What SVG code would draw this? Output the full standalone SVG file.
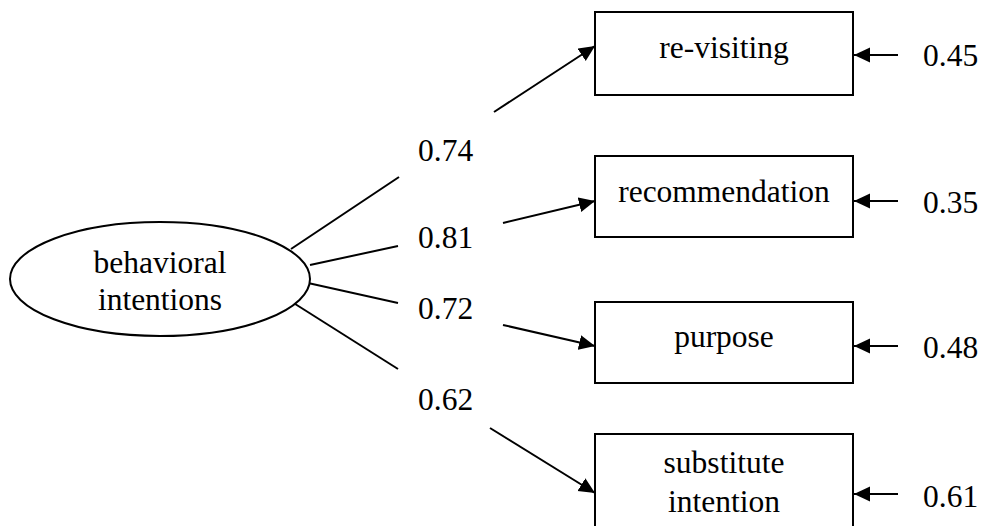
<svg xmlns="http://www.w3.org/2000/svg" width="982" height="526" viewBox="0 0 982 526">
  <style>
    text { font-family: "Liberation Serif", "Times New Roman", serif; font-size: 31.5px; fill: #000; }
    .mid { text-anchor: middle; }
    .shape { fill: #fff; stroke: #000; stroke-width: 2; }
    .edge { stroke: #000; stroke-width: 2; fill: none; }
    .arrow { marker-end: url(#head); }
  </style>
  <defs>
    <marker id="head" viewBox="0 0 16 16" refX="16" refY="8" markerWidth="16" markerHeight="16" markerUnits="userSpaceOnUse" orient="auto">
      <path d="M0,0.5 L16,8 L0,15.5 Z" fill="#000"/>
    </marker>
  </defs>

  <rect width="982" height="526" fill="#fff"/>

  <g id="connectors">
    <!-- loadings: latent factor to indicators, broken around the coefficient labels -->
    <line class="edge" x1="291" y1="249" x2="399" y2="177"/>
    <line class="edge arrow" x1="494" y1="112" x2="595" y2="46"/>
    <line class="edge" x1="310" y1="265" x2="398" y2="246"/>
    <line class="edge arrow" x1="503" y1="223" x2="595" y2="201"/>
    <line class="edge" x1="308" y1="283" x2="398" y2="303"/>
    <line class="edge arrow" x1="503" y1="325" x2="595" y2="346"/>
    <line class="edge" x1="292" y1="302" x2="398" y2="369"/>
    <line class="edge arrow" x1="490" y1="428" x2="595" y2="493"/>
    <!-- error terms -->
    <line class="edge arrow" x1="898" y1="55" x2="854" y2="55"/>
    <line class="edge arrow" x1="898" y1="201" x2="854" y2="201"/>
    <line class="edge arrow" x1="898" y1="346" x2="854" y2="346"/>
    <line class="edge arrow" x1="898" y1="494" x2="854" y2="494"/>
  </g>

  <g id="coefficients">
    <text x="418" y="161">0.74</text>
    <text x="418" y="248">0.81</text>
    <text x="418" y="319">0.72</text>
    <text x="418" y="410">0.62</text>
  </g>

  <g id="behavioral-intentions">
    <ellipse class="shape" cx="160" cy="279" rx="150" ry="57"/>
    <text class="mid" x="160" y="273">behavioral</text>
    <text class="mid" x="160" y="310">intentions</text>
  </g>

  <g id="re-visiting">
    <rect class="shape" x="595" y="12" width="258" height="83"/>
    <text class="mid" x="724" y="58">re-visiting</text>
  </g>
  <g id="recommendation">
    <rect class="shape" x="595" y="156" width="258" height="81"/>
    <text class="mid" x="724" y="202">recommendation</text>
  </g>
  <g id="purpose">
    <rect class="shape" x="595" y="302" width="258" height="81"/>
    <text class="mid" x="724" y="347">purpose</text>
  </g>
  <g id="substitute-intention">
    <rect class="shape" x="595" y="434" width="258" height="110"/>
    <text class="mid" x="724" y="473">substitute</text>
    <text class="mid" x="724" y="512">intention</text>
  </g>

  <g id="error-variances">
    <text x="923" y="66">0.45</text>
    <text x="923" y="213">0.35</text>
    <text x="923" y="358">0.48</text>
    <text x="923" y="507">0.61</text>
  </g>
</svg>
